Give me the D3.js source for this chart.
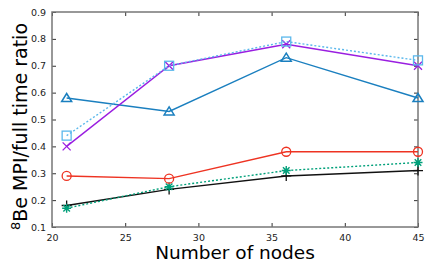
<!DOCTYPE html>
<html>
<head>
<meta charset="utf-8">
<script src="https://cdn.jsdelivr.net/npm/d3@7"></script>
<style>
  body { margin: 0; background: white; }
  text { font-family: "DejaVu Sans", sans-serif; }
</style>
</head>
<body>
<div id="chart"></div>
<script>
// data
var nodes = [21, 28, 36, 45];
var plusSeries = [0.18, 0.24, 0.29, 0.31];
var starSeries = [0.17, 0.25, 0.31, 0.34];
var circleSeries = [0.29, 0.28, 0.38, 0.38];
var triSeries = [0.58, 0.53, 0.73, 0.58];
var crossSeries = [0.40, 0.70, 0.78, 0.70];
var squareSeries = [0.44, 0.70, 0.79, 0.72];
var xTicks = [20, 25, 30, 35, 40, 45];
var yTicks = [0.1, 0.2, 0.3, 0.4, 0.5, 0.6, 0.7, 0.8, 0.9];

var margin = {top: 12, right: 18, bottom: 35, left: 52},
    width = 436 - margin.left - margin.right,
    height = 262 - margin.top - margin.bottom;

var svg = d3.select("#chart")
  .append("svg")
    .attr("width", 436)
    .attr("height", 262)
  .append("g")
    .attr("transform", "translate(" + margin.left + "," + margin.top + ")");

var x = d3.scaleLinear().domain([20, 45]).range([0, width]);
var y = d3.scaleLinear().domain([0.1, 0.9]).range([height, 0]);

function styleAxis(g) {
  g.select(".domain").remove();
  g.selectAll(".tick line").attr("stroke", "#333");
  g.selectAll(".tick text").attr("fill", "#222").style("font-size", "9.5px");
}

svg.append("g")
  .attr("transform", "translate(0," + height + ")")
  .call(d3.axisBottom(x).tickValues(xTicks).tickSize(-4).tickPadding(7).tickFormat(d3.format("d")))
  .call(styleAxis);
svg.append("g")
  .call(d3.axisTop(x).tickValues(xTicks).tickSize(-4).tickFormat(""))
  .call(styleAxis);
svg.append("g")
  .call(d3.axisLeft(y).tickValues(yTicks).tickSize(-4).tickPadding(6).tickFormat(d3.format(".1f")))
  .call(styleAxis);
svg.append("g")
  .attr("transform", "translate(" + width + ",0)")
  .call(d3.axisRight(y).tickValues(yTicks).tickSize(-4).tickFormat(""))
  .call(styleAxis);

svg.append("rect")
  .attr("width", width).attr("height", height)
  .attr("fill", "none").attr("stroke", "#777").attr("stroke-width", 1.5);

var series = [
  {vals: plusSeries, color: "#111111", dash: null, mark: "plus"},
  {vals: starSeries, color: "#00a07a", dash: "2,2", mark: "star"},
  {vals: circleSeries, color: "#ee3322", dash: null, mark: "circle"},
  {vals: triSeries, color: "#1a7fbf", dash: null, mark: "tri"},
  {vals: crossSeries, color: "#9a1ee0", dash: null, mark: "cross"},
  {vals: squareSeries, color: "#5bb8ec", dash: "2,2", mark: "square"}
];

var line = d3.line()
  .x(function(d, i) { return x(nodes[i]) })
  .y(function(d) { return y(d) });

series.forEach(function(s) {
  svg.append("path")
    .datum(s.vals)
    .attr("fill", "none")
    .attr("stroke", s.color)
    .attr("stroke-width", 1.4)
    .attr("stroke-dasharray", s.dash)
    .attr("d", line);

  var pts = svg.selectAll(null)
    .data(s.vals)
    .enter()
    .append("g")
    .attr("transform", function(d, i) { return "translate(" + x(nodes[i]) + "," + y(d) + ")" });

  var r = 4.5;
  if (s.mark == "circle") {
    pts.append("circle").attr("r", r).attr("fill", "none").attr("stroke", s.color).attr("stroke-width", 1.3);
  } else if (s.mark == "square") {
    pts.append("rect").attr("x", -r).attr("y", -r).attr("width", 2 * r).attr("height", 2 * r)
      .attr("fill", "none").attr("stroke", s.color).attr("stroke-width", 1.3);
  } else if (s.mark == "tri") {
    pts.append("path").attr("d", "M0,-4.5L5,3.5L-5,3.5Z")
      .attr("fill", "none").attr("stroke", s.color).attr("stroke-width", 1.5);
  } else if (s.mark == "cross") {
    pts.append("path").attr("d", "M-4,-4L4,4M-4,4L4,-4")
      .attr("stroke", s.color).attr("stroke-width", 1.3);
  } else if (s.mark == "plus") {
    pts.append("path").attr("d", "M-5,0L5,0M0,-5L0,5")
      .attr("stroke", s.color).attr("stroke-width", 1.3);
  } else if (s.mark == "star") {
    pts.append("path").attr("d", "M-4.5,0L4.5,0M0,-4.5L0,4.5M-3.3,-3.3L3.3,3.3M-3.3,3.3L3.3,-3.3")
      .attr("stroke", s.color).attr("stroke-width", 1.4);
  }
});

// axis titles
svg.append("text")
  .attr("x", width / 2)
  .attr("y", height + 32)
  .attr("text-anchor", "middle")
  .style("font-size", "18.5px")
  .text("Number of nodes");

var yl = svg.append("text")
  .attr("transform", "translate(-27," + (height / 2 + 7) + ")rotate(-90)")
  .attr("text-anchor", "middle")
  .style("font-size", "19px");
yl.append("tspan").attr("dy", "-0.4em").style("font-size", "13px").text("8");
yl.append("tspan").attr("dy", "0.4em").text("Be MPI/full time ratio");
</script>
</body>
</html>
